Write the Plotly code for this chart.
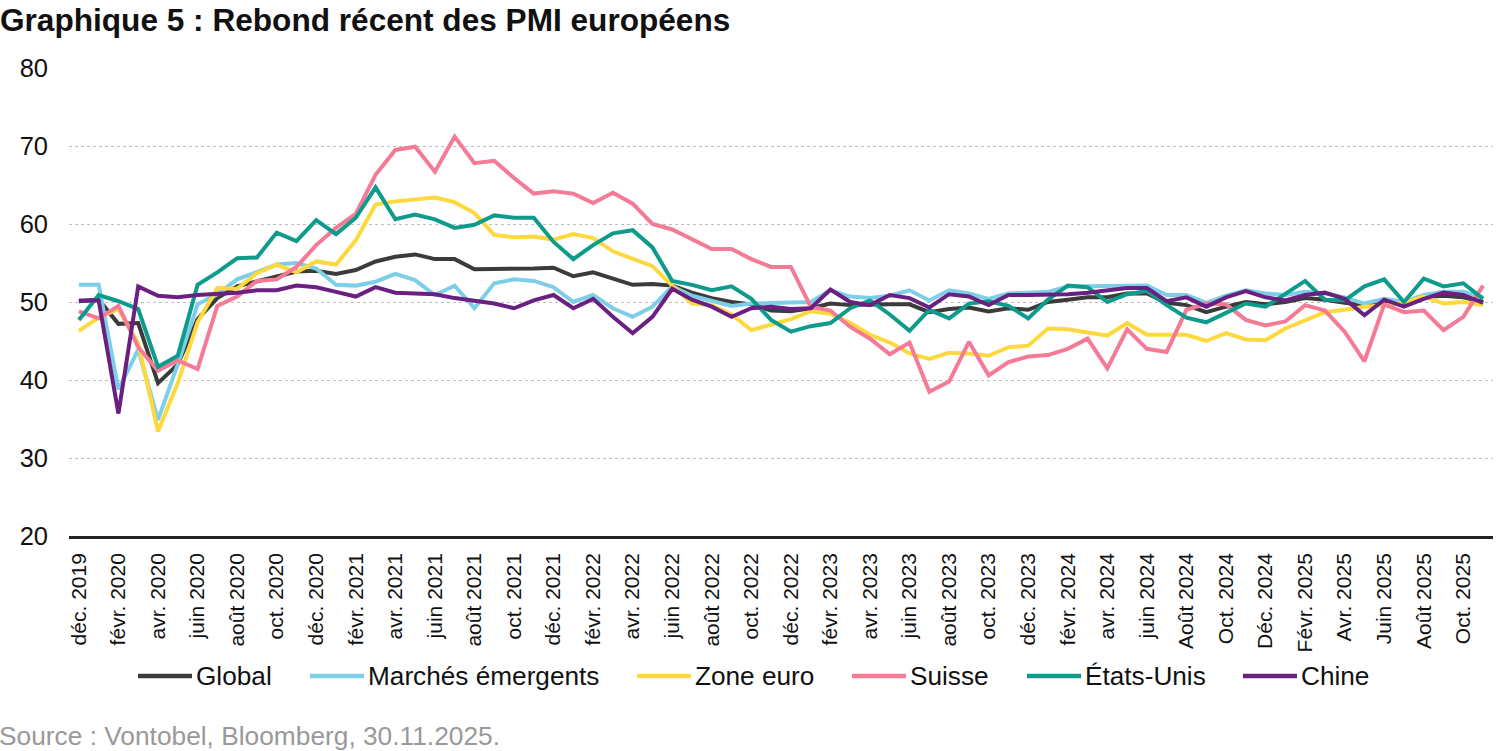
import pandas as pd
import plotly.graph_objects as go

# monthly PMI readings, Dec 2019 -> Nov 2025
months = pd.date_range("2019-12-01", periods=72, freq="MS").strftime("%Y-%m").tolist()

tick_labels = [
    "déc. 2019", "févr. 2020", "avr. 2020", "juin 2020", "août 2020", "oct. 2020",
    "déc. 2020", "févr. 2021", "avr. 2021", "juin 2021", "août 2021", "oct. 2021",
    "déc. 2021", "févr. 2022", "avr. 2022", "juin 2022", "août 2022", "oct. 2022",
    "déc. 2022", "févr. 2023", "avr. 2023", "juin 2023", "août 2023", "oct. 2023",
    "déc. 2023", "févr. 2024", "avr. 2024", "juin 2024", "Août 2024", "Oct. 2024",
    "Déc. 2024", "Févr. 2025", "Avr. 2025", "Juin 2025", "Août 2025", "Oct. 2025",
]

global_pmi = [
    50.1, 50.3, 47.2, 47.3, 39.6, 42.0, 47.8, 50.5, 52.0, 52.6, 53.3, 53.9,
    54.0, 53.6, 54.1, 55.2, 55.8, 56.1, 55.5, 55.5, 54.2, 54.2, 54.2, 54.3,
    54.4, 53.3, 53.8, 53.0, 52.2, 52.3, 52.1, 51.2, 50.5, 50.0, 49.7, 48.9,
    48.8, 49.2, 49.8, 49.6, 49.7, 49.7, 49.7, 48.7, 49.1, 49.3, 48.8, 49.2,
    49.0, 50.0, 50.3, 50.6, 50.6, 51.1, 51.1, 49.9, 49.6, 48.7, 49.4, 50.0,
    49.7, 50.0, 50.5, 50.3, 49.9, 49.6, 50.1, 49.7, 50.6, 50.8, 50.6, 50.0,
]
em_pmi = [
    52.2, 52.2, 38.8, 43.9, 34.9, 42.0, 49.7, 51.0, 52.9, 53.8, 54.8, 55.0,
    54.3, 52.2, 52.1, 52.6, 53.6, 52.8, 50.9, 52.1, 49.2, 52.4, 52.9, 52.7,
    51.9, 50.0, 50.9, 49.2, 48.1, 49.4, 52.0, 50.8, 50.2, 49.5, 49.8, 49.9,
    49.9, 50.0, 51.5, 50.7, 50.5, 50.8, 51.5, 50.2, 51.5, 51.1, 50.4, 51.1,
    51.2, 51.3, 52.0, 52.0, 52.0, 52.1, 52.1, 50.9, 50.9, 49.9, 50.8, 51.5,
    51.1, 50.9, 51.3, 51.1, 50.6, 49.8, 50.4, 50.0, 50.9, 51.3, 51.3, 50.6,
]
eurozone_pmi = [
    46.3, 48.0, 49.1, 44.7, 33.4, 39.6, 47.4, 51.8, 51.7, 53.7, 54.8, 53.8,
    55.2, 54.8, 57.9, 62.5, 62.9, 63.1, 63.4, 62.8, 61.4, 58.6, 58.3, 58.4,
    58.0, 58.7, 58.2, 56.5, 55.5, 54.6, 52.1, 49.8, 49.6, 48.4, 46.4, 47.1,
    47.8, 48.8, 48.5, 47.3, 45.8, 44.8, 43.4, 42.7, 43.5, 43.4, 43.1, 44.2,
    44.4, 46.6, 46.5, 46.1, 45.7, 47.3, 45.8, 45.8, 45.8, 45.0, 46.0, 45.2,
    45.1, 46.6, 47.6, 48.7, 49.0, 49.4, 49.6, 49.9, 50.7, 49.8, 50.0, 49.6,
]
swiss_pmi = [
    48.8, 47.9, 49.5, 44.2, 41.2, 42.5, 41.4, 49.5, 50.7, 52.7, 52.9, 54.5,
    57.3, 59.5, 61.3, 66.3, 69.5, 69.9, 66.7, 71.2, 67.8, 68.1, 65.9, 63.9,
    64.2, 63.9, 62.7, 64.0, 62.6, 60.0, 59.3, 58.1, 56.8, 56.8, 55.5, 54.5,
    54.5, 49.4, 48.9, 46.8, 45.3, 43.3, 44.8, 38.5, 39.8, 44.9, 40.6, 42.3,
    43.0, 43.2, 44.0, 45.3, 41.5, 46.5, 44.0, 43.6, 49.0, 49.8, 49.7, 47.7,
    47.0, 47.5, 49.6, 48.9, 46.2, 42.4, 49.7, 48.7, 48.9, 46.4, 48.1, 52.1,
]
us_pmi = [
    47.7, 50.9, 50.1, 49.1, 41.7, 43.1, 52.2, 53.8, 55.6, 55.7, 58.9, 57.8,
    60.5, 58.7, 60.8, 64.7, 60.6, 61.2, 60.6, 59.5, 59.9, 61.1, 60.8, 60.8,
    57.7, 55.5, 57.3, 58.8, 59.2, 57.0, 52.7, 52.2, 51.5, 52.0, 50.4, 47.7,
    46.2, 46.9, 47.3, 49.2, 50.2, 48.4, 46.3, 49.0, 47.9, 49.8, 50.1, 49.5,
    47.9, 50.3, 52.1, 51.9, 50.0, 51.0, 51.4, 49.6, 48.0, 47.4, 48.6, 49.8,
    49.4, 51.1, 52.7, 50.3, 50.2, 52.0, 52.9, 50.0, 53.0, 52.0, 52.4, 50.4,
]
china_pmi = [
    50.2, 50.2, 35.7, 52.0, 50.8, 50.6, 50.9, 51.0, 51.2, 51.5, 51.5, 52.1,
    51.9, 51.3, 50.7, 51.9, 51.2, 51.1, 51.0, 50.5, 50.2, 49.8, 49.2, 50.2,
    50.9, 49.2, 50.4, 48.1, 46.0, 48.1, 51.7, 50.3, 49.4, 48.1, 49.2, 49.4,
    49.1, 49.2, 51.6, 50.0, 49.6, 50.9, 50.5, 49.3, 51.0, 50.7, 49.6, 50.9,
    50.9, 50.9, 51.0, 51.2, 51.5, 51.8, 51.8, 50.1, 50.6, 49.4, 50.6, 51.4,
    50.6, 50.2, 50.9, 51.2, 50.4, 48.3, 50.3, 49.4, 50.4, 51.2, 50.9, 49.9,
]

series = [
    ("Global", global_pmi, "#3b3b3b"),
    ("Marchés émergents", em_pmi, "#7dcfe7"),
    ("Zone euro", eurozone_pmi, "#fdd93d"),
    ("Suisse", swiss_pmi, "#f57a95"),
    ("États-Unis", us_pmi, "#0e9b8c"),
    ("Chine", china_pmi, "#6a2080"),
]

FONT = "Liberation Sans, Arial, sans-serif"

fig = go.Figure()
for name, values, color in series:
    fig.add_trace(go.Scatter(
        x=months, y=values, name=name, mode="lines",
        line=dict(color=color, width=4),
    ))

# hand-built legend (longer line samples than plotly's own legend)
plot_left, plot_right, plot_top, plot_bottom = 69, 1493, 68, 536
def px(x):
    return (x - plot_left) / (plot_right - plot_left)
def py(y):
    return (plot_bottom - y) / (plot_bottom - plot_top)

legend_x = [138, 310, 637, 852, 1027, 1243]
legend_y = 676
for (name, _, color), lx in zip(series, legend_x):
    fig.add_shape(type="line", xref="paper", yref="paper",
                  x0=px(lx), x1=px(lx + 54), y0=py(legend_y), y1=py(legend_y),
                  line=dict(color=color, width=4.5))
    fig.add_annotation(xref="paper", yref="paper", x=px(lx + 56), y=py(legend_y),
                       text=name, showarrow=False, xanchor="left", yanchor="middle",
                       font=dict(size=26.2, color="#111111", family=FONT))

fig.add_annotation(xref="paper", yref="paper", x=px(-3), y=py(736),
                   text="Source : Vontobel, Bloomberg, 30.11.2025.", showarrow=False,
                   xanchor="left", yanchor="middle",
                   font=dict(size=26.3, color="#999999", family=FONT))

fig.update_layout(
    width=1500, height=751,
    margin=dict(l=plot_left, r=1500 - plot_right, t=plot_top, b=751 - plot_bottom),
    paper_bgcolor="white", plot_bgcolor="white",
    showlegend=False,
    font=dict(family=FONT, color="#111111"),
    title=dict(text="<b>Graphique 5 : Rebond récent des PMI européens</b>",
               xref="container", x=0.0, xanchor="left",
               yref="container", y=0.988, yanchor="top",
               font=dict(size=31.6, color="#111111", family=FONT)),
)
fig.update_xaxes(
    type="category", range=[-0.5, len(months) - 0.5],
    tickmode="array", tickvals=months[::2], ticktext=tick_labels,
    tickangle=-90, tickfont=dict(size=21, color="#111111"),
    showgrid=False, showline=True, linecolor="#222222", linewidth=2.5,
    ticks="", ticklabelstandoff=6,
)
fig.update_yaxes(
    range=[20, 80], dtick=10, tickfont=dict(size=25.5, color="#111111"),
    showgrid=True, gridcolor="#bdbdbd", griddash="dot", gridwidth=1,
    zeroline=False, showline=False, ticks="", ticklabelstandoff=20,
)

fig.write_html("out.html", config={"displayModeBar": False})

# drop the browser's default 8px body margin so the figure fills the window
with open("out.html", encoding="utf-8") as f:
    page = f.read()
page = page.replace("<body>", '<body style="margin:0;padding:0;overflow:hidden">', 1)
with open("out.html", "w", encoding="utf-8") as f:
    f.write(page)
